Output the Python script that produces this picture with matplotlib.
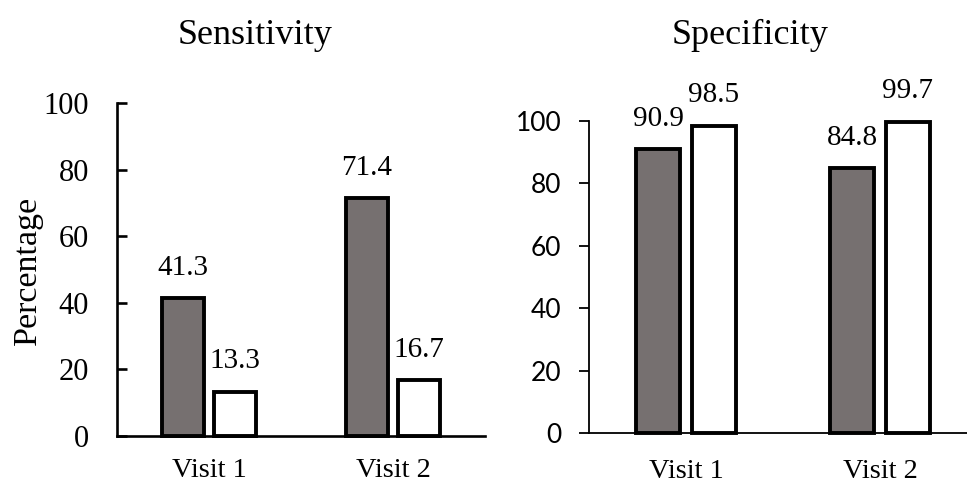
import matplotlib
matplotlib.use("Agg")
import numpy as np
import matplotlib.pyplot as plt

# data
visits = ["Visit 1", "Visit 2"]
sens_a = [41.3, 71.4]
sens_b = [13.3, 16.7]
spec_a = [90.9, 84.8]
spec_b = [98.5, 99.7]
yticks = [0, 20, 40, 60, 80, 100]

SERIF = "Liberation Serif"
SANS = "Lato"
dark = "#767070"

fig = plt.figure(figsize=(9.67, 4.86), dpi=100)

ax1 = fig.add_axes([117 / 967, 1 - 436 / 486, 368 / 967, 333 / 486])
ax2 = fig.add_axes([589 / 967, 1 - 433 / 486, 388 / 967, 312 / 486])

x = np.arange(len(visits)) + 0.5
w = 0.227
off = 0.142


def draw(ax, a, b, tick_font, tick_dir, spine_lw, pad, ypad):
    b1 = ax.bar(x - off, a, w, color=dark, edgecolor="black", linewidth=2.8, clip_on=False, zorder=3)
    b2 = ax.bar(x + off, b, w, color="white", edgecolor="black", linewidth=2.8, clip_on=False, zorder=3)
    for bars, vals in ((b1, a), (b2, b)):
        for r, v in zip(bars, vals):
            ax.annotate(f"{v:.1f}", (r.get_x() + r.get_width() / 2, v),
                        xytext=(0, 17), textcoords="offset points",
                        ha="center", va="baseline", fontsize=21, family=SERIF)
    ax.set_xlim(0, 2)
    ax.set_ylim(0, 100)
    ax.set_yticks(yticks)
    ax.set_yticklabels([str(t) for t in yticks], fontsize=tick_font[1], family=tick_font[0])
    ax.set_xticks(x)
    ax.set_xticklabels(visits, fontsize=20.5, family=SERIF)
    ax.tick_params(axis="x", length=0, pad=pad)
    ax.tick_params(axis="y", direction=tick_dir, length=7, width=spine_lw, pad=ypad)
    for s in ("top", "right"):
        ax.spines[s].set_visible(False)
    for s in ("left", "bottom"):
        ax.spines[s].set_linewidth(spine_lw)


draw(ax1, sens_a, sens_b, (SERIF, 22), "in", 1.9, 16, 20)
draw(ax2, spec_a, spec_b, (SANS, 19), "out", 1.3, 19, 13)

fig.text(255 / 967, 1 - 35 / 486, "Sensitivity", ha="center", va="center", fontsize=26, family=SERIF)
fig.text(750 / 967, 1 - 35 / 486, "Specificity", ha="center", va="center", fontsize=26, family=SERIF)
fig.text(28 / 967, 1 - 270 / 486, "Percentage", ha="center", va="center", rotation=90, fontsize=24.5, family=SERIF)

fig.savefig("out.png", dpi=100)
